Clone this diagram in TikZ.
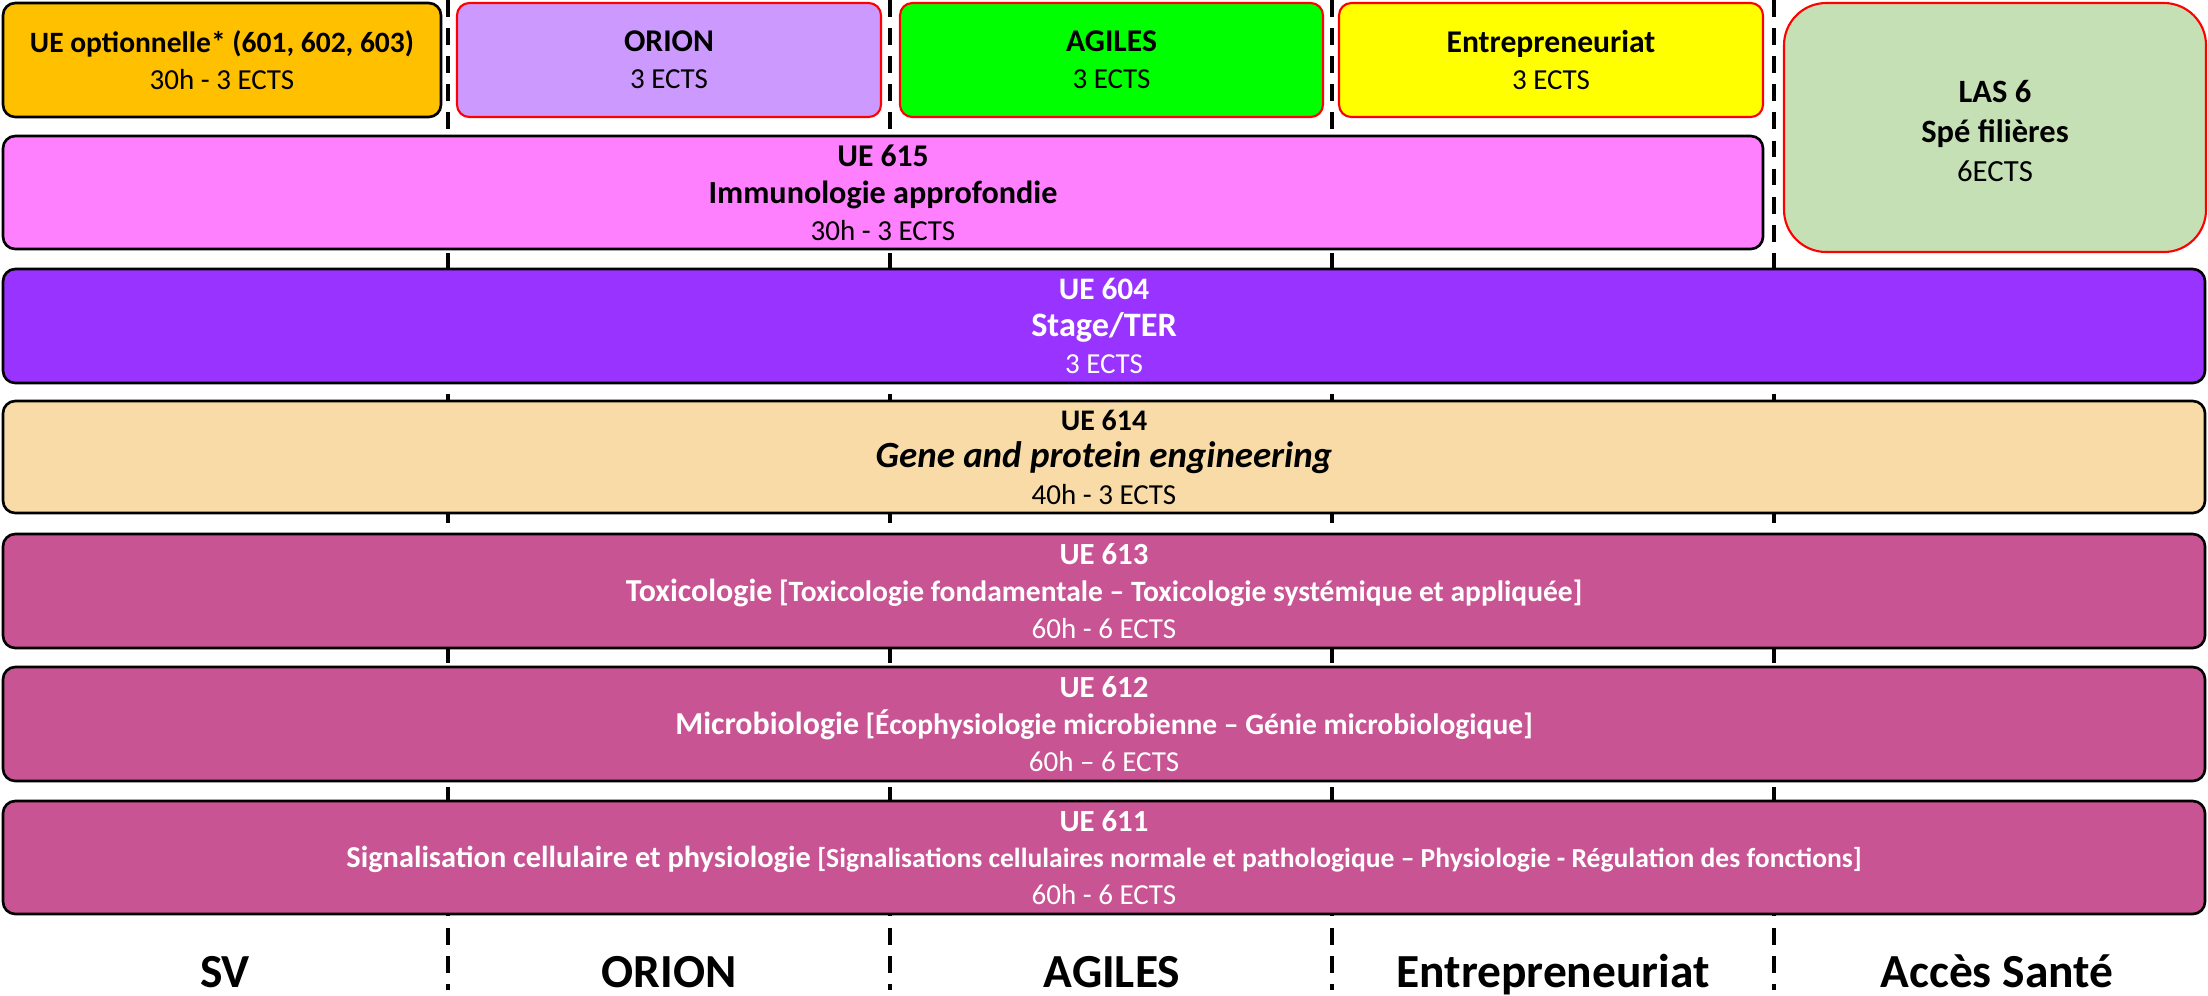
\documentclass[tikz,border=0pt]{standalone}
\usepackage{fontspec}
\setmainfont{Carlito}
\definecolor{optcol}{HTML}{FFC000}
\definecolor{orioncol}{HTML}{CC99FF}
\definecolor{agilcol}{HTML}{00FF00}
\definecolor{entcol}{HTML}{FFFF00}
\definecolor{lascol}{HTML}{C5E0B4}
\definecolor{immcol}{HTML}{FF80FF}
\definecolor{stagecol}{HTML}{9933FF}
\definecolor{genecol}{HTML}{F8DBA6}
\definecolor{uecol}{HTML}{C95494}
% bold text at a given size
\newcommand\uetxt[2]{{\fontsize{#1}{21}\selectfont\bfseries #2}}
\begin{document}
\begin{tikzpicture}[x=0.2mm,y=-0.2mm,font=\fontsize{16.5}{21}\selectfont,
 ue/.style={draw=black,line width=1.5pt,rounded corners=7pt},
 parc/.style={draw=red,line width=1.2pt,rounded corners=7pt},
 lab/.style={align=center,inner sep=0pt},
 sep/.style={line width=1.9pt,dash pattern=on 9.5pt off 6.5pt}]
\useasboundingbox (0,0) rectangle (2208,995);
% separations between the parcours
\foreach \x in {448,890,1332,1774}{
 \draw[sep] (\x,0)--(\x,990);
}
% first row
\draw[ue,fill=optcol] (3,3) rectangle node[lab] (opt) {\uetxt{16.8}{UE optionnelle* (601, 602, 603)}\\30h - 3 ECTS} (441,117);
\draw[parc,fill=orioncol] (457,3) rectangle node[lab] (orion) {\uetxt{18}{ORION}\\3 ECTS} (881,117);
\draw[parc,fill=agilcol] (900,3) rectangle node[lab] (agiles) {\uetxt{18}{AGILES}\\3 ECTS} (1323,117);
\draw[parc,fill=entcol] (1339,3) rectangle node[lab] (entr) {\uetxt{18}{Entrepreneuriat}\\3 ECTS} (1763,117);
\draw[parc,fill=lascol,rounded corners=24pt] (1784,3) rectangle node[lab,font=\fontsize{17.5}{22.5}\selectfont,yshift=-2pt] (las) {\uetxt{18.5}{LAS 6}\\\uetxt{18.5}{Spé filières}\\6ECTS} (2206,252);
% UE 615 to UE 611
\draw[ue,fill=immcol] (3,136) rectangle node[lab] (ue615) {\uetxt{18}{UE 615}\\\uetxt{18.3}{Immunologie approfondie}\\30h - 3 ECTS} (1763,249);
\draw[ue,fill=stagecol] (3,269) rectangle node[lab,white] (ue604) {\uetxt{17.8}{UE 604}\\\uetxt{19.5}{Stage/TER}\\3 ECTS} (2205,383);
\draw[ue,fill=genecol] (3,401) rectangle node[lab] (ue614) {\uetxt{17}{UE 614}\\\uetxt{21}{\itshape Gene and protein engineering}\\40h - 3 ECTS} (2205,513);
\draw[ue,fill=uecol] (3,534) rectangle node[lab,white] (ue613) {\uetxt{17.5}{UE 613}\\\uetxt{18.2}{Toxicologie} \uetxt{16.8}{[Toxicologie fondamentale – Toxicologie systémique et appliquée]}\\60h - 6 ECTS} (2205,648);
\draw[ue,fill=uecol] (3,667) rectangle node[lab,white] (ue612) {\uetxt{17.5}{UE 612}\\\uetxt{18.2}{Microbiologie} \uetxt{16.8}{[Écophysiologie microbienne – Génie microbiologique]}\\60h – 6 ECTS} (2205,781);
\draw[ue,fill=uecol] (3,801) rectangle node[lab,white] (ue611) {\uetxt{17.5}{UE 611}\\\uetxt{17.3}{Signalisation cellulaire et physiologie} \uetxt{15.7}{[Signalisations cellulaires normale et pathologique – Physiologie - Régulation des fonctions]}\\60h - 6 ECTS} (2205,914);
% parcours names
\foreach \x/\nom/\lab in {225/sv/SV,669/porion/ORION,1112/pagiles/AGILES,1553/pentr/Entrepreneuriat,1997/psante/Accès Santé}{
 \node[anchor=base,inner sep=0pt,font=\fontsize{27}{30}\selectfont\bfseries] (\nom) at (\x,987) {\lab};
}
\end{tikzpicture}
\end{document}
